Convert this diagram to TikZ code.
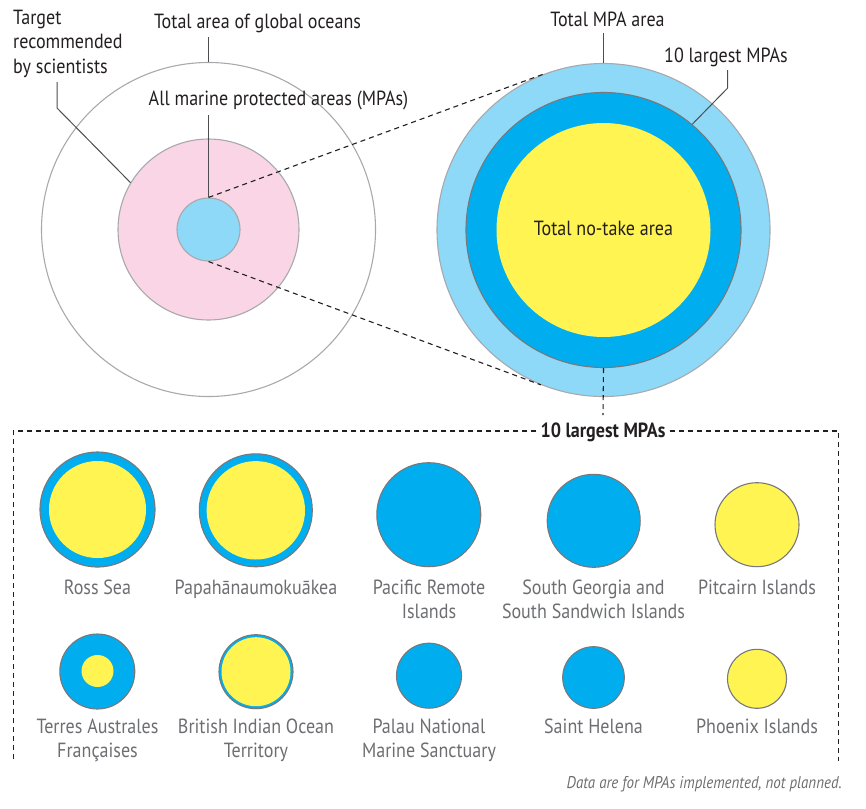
\documentclass[tikz,border=0pt]{standalone}
\usepackage{fontspec}
\setmainfont{PT Sans}[FakeStretch=0.88]
\usetikzlibrary{calc}
\definecolor{lblue}{HTML}{8ED8F8}
\definecolor{cyanb}{HTML}{00AEEF}
\definecolor{yel}{HTML}{FFF451}
\definecolor{pinkf}{HTML}{F9D5E5}
\definecolor{ink}{HTML}{231F20}
\definecolor{graytxt}{HTML}{6D6E71}
\definecolor{edge}{HTML}{77787B}
\definecolor{ledge}{HTML}{A7A9AC}
\definecolor{leadc}{HTML}{4D4D4F}
\begin{document}
\begin{tikzpicture}[x=1pt,y=-1pt,
  disc/.style={circle, inner sep=0pt, draw=edge, line width=1.1pt},
  core/.style={circle, inner sep=0pt},
  toplbl/.style={inner sep=0pt, text=ink, font=\fontsize{20.5}{24.5}\selectfont},
  mpalbl/.style={inner sep=0pt, text=graytxt, align=center, font=\fontsize{20.5}{24.5}\selectfont, anchor=base},
  leader/.style={draw=leadc, line width=1pt},
  dashline/.style={draw=ink, line width=1.1pt, dash pattern=on 5pt off 4pt}
]
\useasboundingbox (0,0) rectangle (866,808);

% ---- left: global oceans ----
\node[circle, inner sep=0pt, minimum size=334pt, draw=ledge, line width=1.1pt] (lout) at (208.5,229.5) {};
\node[circle, inner sep=0pt, minimum size=181pt, fill=pinkf, draw=ledge, line width=1.1pt] (lpink) at (208.5,229.5) {};
\node[circle, inner sep=0pt, minimum size=63pt, fill=lblue, draw=ledge, line width=1.1pt] (lsmall) at (208.5,229.5) {};

\node[toplbl, anchor=base] (ttotal) at (257.5,28.5) {Total area of global oceans};
\node[toplbl, anchor=base] (tall) at (278.5,105) {All marine protected areas (MPAs)};
\node[toplbl, anchor=base west, align=left] (ttarget) at (13,73.5) {Target\\recommended\\by scientists};

\coordinate (tA) at ($(ttotal.base)+(0,8.5)$);
\draw[leader] (tA -| lout.north) -- (lout.north);
\coordinate (aA) at ($(tall.base)+(0,10)$);
\draw[leader] (aA -| lsmall.north) -- (lsmall.north);
\coordinate (tgA) at (57,82);
\coordinate (tgB) at (57,108);
\draw[leader] (tgA) -- (tgB) -- (lpink.149.3);

% ---- right: total MPA area ----
\node[circle, inner sep=0pt, minimum size=333pt, fill=lblue, draw=ledge, line width=1.1pt] (rout) at (603.5,230) {};
\node[circle, inner sep=0pt, minimum size=275pt, fill=cyanb, draw=edge, line width=1.1pt] (rmid) at (603.5,230) {};
\node[circle, inner sep=0pt, minimum size=214pt, fill=yel] (rin) at (603.5,230) {};
\node[toplbl, anchor=center] (tnotake) at (603.5,228) {Total no-take area};

\node[toplbl, anchor=base] (tmpa) at (607.5,27) {Total MPA area};
\node[toplbl, anchor=base] (tten) at (726,62.5) {10 largest MPAs};
\coordinate (mA) at ($(tmpa.base)+(0,6)$);
\draw[leader] (mA -| rout.north) -- (rout.north);
\coordinate (lgA) at (727.7,70);
\coordinate (lgB) at (727.7,88);
\draw[leader] (lgA) -- (lgB) -- (rmid.50);

% zoom lines
\draw[dashline] (lsmall.north) -- (rout.111.8);
\draw[dashline] (lsmall.south) -- (rout.248.1);

% ---- box of 10 largest ----
\node[inner sep=0pt, text=ink, font=\bfseries\fontsize{20.5}{24.5}\selectfont, anchor=base] (boxlbl) at (603,437) {10 largest MPAs};
\coordinate (bTL) at (13.3,431);
\coordinate (bTR) at (838.5,431);
\coordinate (bBL) at (13.3,761);
\coordinate (bBR) at (838.5,761);
\draw[dashline] (rmid.south) -- ($(boxlbl.north)+(0,-7)$);
\draw[dashline] ([xshift=-4pt]boxlbl.west |- bTL) -- (bTL) -- (bBL);
\draw[dashline] ([xshift=4pt]boxlbl.east |- bTR) -- (bTR) -- (bBR);

% row 1
\node[disc, minimum size=115pt, fill=cyanb] (ross) at (97.5,509.5) {};
\node[core, minimum size=97pt, fill=yel] (rossy) at (97.5,509.5) {};
\node[disc, minimum size=113pt, fill=cyanb] (papa) at (255.8,510.3) {};
\node[core, minimum size=98.4pt, fill=yel] (papay) at (255.8,510.3) {};
\node[disc, minimum size=104pt, fill=cyanb] (pacific) at (428.8,514.7) {};
\node[disc, minimum size=93pt, fill=cyanb] (sgeorgia) at (593.7,520.8) {};
\node[disc, minimum size=84pt, fill=yel] (pitcairn) at (757,524.7) {};

\node[mpalbl] (lross) at (97.5,594) {Ross Sea};
\node[mpalbl] (lpapa) at (256,594) {Papahānaumokuākea};
\node[mpalbl] (lpacific) at (429,618.5) {Pacific Remote\\Islands};
\node[mpalbl] (lsg) at (593.5,618.5) {South Georgia and\\South Sandwich Islands};
\node[mpalbl] (lpit) at (757,594) {Pitcairn Islands};

% row 2
\node[disc, minimum size=75pt, fill=cyanb] (terres) at (97.3,671.5) {};
\node[core, minimum size=32pt, fill=yel] (terresy) at (97.5,671) {};
\node[disc, minimum size=74pt, fill=cyanb] (biot) at (256,671.7) {};
\node[core, minimum size=69pt, fill=yel] (bioty) at (256,671.7) {};
\node[disc, minimum size=65pt, fill=cyanb] (palau) at (429,675.7) {};
\node[disc, minimum size=61.6pt, fill=cyanb] (helena) at (593.5,677.5) {};
\node[disc, minimum size=59pt, fill=yel] (phoenix) at (757,678.8) {};

\node[mpalbl] (lterres) at (97.5,757.5) {Terres Australes\\Françaises};
\node[mpalbl] (lbiot) at (256,757.5) {British Indian Ocean\\Territory};
\node[mpalbl] (lpalau) at (429,757.5) {Palau National\\Marine Sanctuary};
\node[mpalbl] (lhelena) at (593.5,733) {Saint Helena};
\node[mpalbl] (lphoenix) at (757,733) {Phoenix Islands};

\node[inner sep=0pt, text=graytxt, font=\itshape\fontsize{17}{20}\selectfont, anchor=base east] (note) at (842,788) {Data are for MPAs implemented, not planned.};
\end{tikzpicture}
\end{document}
